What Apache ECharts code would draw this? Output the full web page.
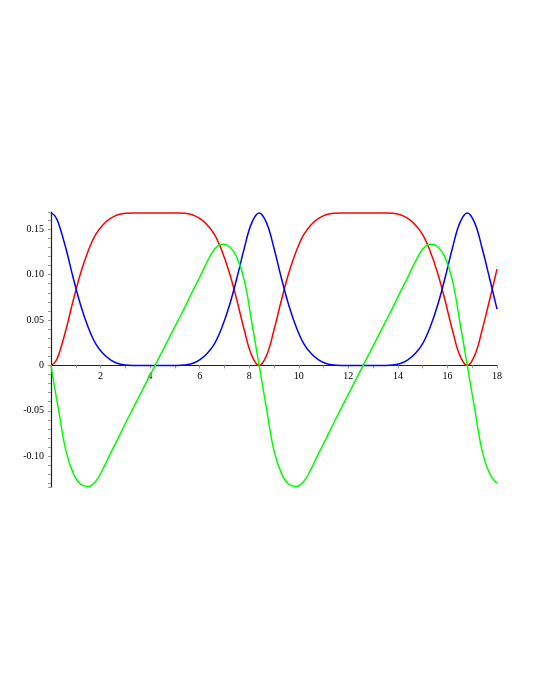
<!DOCTYPE html>
<html>
<head>
<meta charset="UTF-8">
<title>plot</title>
<script src="https://cdn.jsdelivr.net/npm/echarts@6/dist/echarts.min.js"></script>
<style>
  html, body { margin: 0; padding: 0; background: #fff; }
  #main { width: 540px; height: 699px; }
</style>
</head>
<body>
<div id="main"></div>
<script>
// x samples (step 0.3, plus one extra near the start)
var xs = [0, 0.15, 0.3, 0.6, 0.9, 1.2, 1.5, 1.8, 2.1, 2.4, 2.7, 3, 3.3, 3.6, 3.9, 4.2, 4.5, 4.8, 5.1, 5.4, 5.7,
  6, 6.3, 6.6, 6.9, 7.2, 7.5, 7.8, 8.1, 8.4, 8.7, 9, 9.3, 9.6, 9.9, 10.2, 10.5, 10.8, 11.1, 11.4, 11.7,
  12, 12.3, 12.6, 12.9, 13.2, 13.5, 13.8, 14.1, 14.4, 14.7, 15, 15.3, 15.6, 15.9, 16.2, 16.5, 16.8, 17.1, 17.4, 17.7, 18];

var red = [0, 0.003, 0.011, 0.039, 0.072, 0.102, 0.126, 0.144, 0.155, 0.162, 0.166, 0.1675, 0.168, 0.168, 0.168, 0.168,
  0.168, 0.168, 0.168, 0.1675, 0.166, 0.162, 0.155, 0.144, 0.126, 0.102, 0.072, 0.039, 0.011, 0,
  0.011, 0.039, 0.072, 0.102, 0.126, 0.144, 0.155, 0.162, 0.166, 0.1675, 0.168, 0.168, 0.168, 0.168,
  0.168, 0.168, 0.168, 0.1675, 0.166, 0.162, 0.155, 0.144, 0.126, 0.102, 0.072, 0.039, 0.011, 0,
  0.011, 0.039, 0.072, 0.106];

var blue = [0.168, 0.165, 0.157, 0.129, 0.096, 0.066, 0.042, 0.024, 0.013, 0.006, 0.002, 0.0005, 0, 0, 0, 0,
  0, 0, 0, 0.0005, 0.002, 0.006, 0.013, 0.024, 0.042, 0.066, 0.096, 0.129, 0.157, 0.168,
  0.157, 0.129, 0.096, 0.066, 0.042, 0.024, 0.013, 0.006, 0.002, 0.0005, 0, 0, 0, 0,
  0, 0, 0, 0.0005, 0.002, 0.006, 0.013, 0.024, 0.042, 0.066, 0.096, 0.129, 0.157, 0.168,
  0.157, 0.129, 0.096, 0.062];

var green = [0, -0.025, -0.048, -0.094, -0.119, -0.131, -0.1335, -0.128, -0.114, -0.097, -0.081, -0.064, -0.048, -0.032, -0.016, 0,
  0.016, 0.032, 0.048, 0.064, 0.081, 0.097, 0.114, 0.128, 0.1335, 0.131, 0.119, 0.094, 0.048, 0,
  -0.048, -0.094, -0.119, -0.131, -0.1335, -0.128, -0.114, -0.097, -0.081, -0.064, -0.048, -0.032, -0.016, 0,
  0.016, 0.032, 0.048, 0.064, 0.081, 0.097, 0.114, 0.128, 0.1335, 0.131, 0.119, 0.094, 0.048, 0,
  -0.048, -0.094, -0.119, -0.13];

var yMin = -0.134, yMax = 0.169;
var gridTop = 212, gridH = 275;

function pairs(ys) {
  return xs.map(function (x, i) { return [x, ys[i]]; });
}

var chart = echarts.init(document.getElementById('main'));
var labelFont = { fontFamily: 'Liberation Serif', fontSize: 10, color: '#000' };

function line(name, ys, color) {
  return {
    name: name,
    type: 'line',
    data: pairs(ys),
    smooth: 0.4,
    showSymbol: false,
    lineStyle: { color: color, width: 1.5 },
    itemStyle: { color: color }
  };
}

// shift x axis up so it sits on y = 0
var zeroOffset = -gridH * (0 - yMin) / (yMax - yMin);

chart.setOption({
  animation: false,
  backgroundColor: '#fff',
  grid: { left: 51, top: gridTop, width: 446, height: gridH },
  xAxis: {
    type: 'value',
    min: 0,
    max: 18,
    interval: 2,
    position: 'bottom',
    offset: zeroOffset,
    axisLine: { onZero: false, lineStyle: { color: '#222', width: 1.2 } },
    axisTick: { show: true, length: 3, lineStyle: { color: '#999' } },
    minorTick: { show: true, splitNumber: 2, length: 3, lineStyle: { color: '#999' } },
    splitLine: { show: false },
    axisLabel: Object.assign({ showMinLabel: false, margin: 6 }, labelFont)
  },
  yAxis: {
    type: 'value',
    min: yMin,
    max: yMax,
    splitNumber: 6,
    minInterval: 0.05,
    maxInterval: 0.05,
    axisLine: { show: true, onZero: false, lineStyle: { color: '#222', width: 1.2 } },
    axisTick: { show: true, length: 3, lineStyle: { color: '#999' } },
    minorTick: { show: true, splitNumber: 5, length: 3, lineStyle: { color: '#999' } },
    splitLine: { show: false },
    axisLabel: Object.assign({
      margin: 7,
      formatter: function (v) {
        var k = v / 0.05;
        if (Math.abs(k - Math.round(k)) > 1e-6) return '';
        if (Math.abs(v) < 1e-9) return '0';
        return v.toFixed(2);
      }
    }, labelFont)
  },
  series: [
    line('red', red, '#ff0000'),
    line('blue', blue, '#0000ff'),
    line('green', green, '#00ff00')
  ]
});
</script>
</body>
</html>
